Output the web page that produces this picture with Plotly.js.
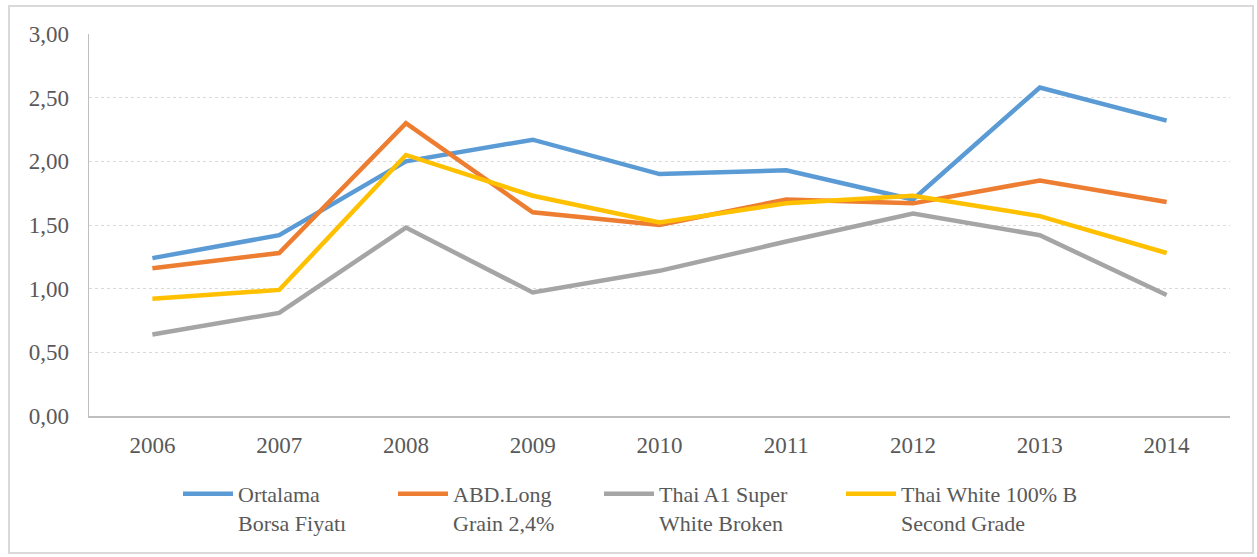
<!DOCTYPE html>
<html>
<head>
<meta charset="utf-8">
<script src="https://cdn.plot.ly/plotly-3.0.1.min.js"></script>
<style>
  body { margin: 0; background: #fff; }
  #plotly_graph { width: 1257px; height: 557px; }
  #frame {
    position: absolute; left: 8px; top: 5px; width: 1242px; height: 545px;
    border: 2px solid #d9d9d9; pointer-events: none;
  }
</style>
</head>
<body>
<div id="plotly_graph"></div>
<div id="frame"></div>
<script>
// ~~~~~~~~~~~~~~~~~~~~~~~~~~~~~~~~ DATA ~~~~~~~~~~~~~~~~~~~~~~~~~~~~~~~~
const YEARS = ['2006', '2007', '2008', '2009', '2010', '2011', '2012', '2013', '2014']

const ORTALAMA = [1.24, 1.42, 2.00, 2.17, 1.90, 1.93, 1.70, 2.58, 2.32]
const ABD_LONG = [1.16, 1.28, 2.30, 1.60, 1.50, 1.70, 1.67, 1.85, 1.68]
const THAI_A1 = [0.64, 0.81, 1.48, 0.97, 1.14, 1.37, 1.59, 1.42, 0.95]
const THAI_WHITE = [0.92, 0.99, 2.05, 1.73, 1.52, 1.67, 1.73, 1.57, 1.28]

const NAMES = [
    'Ortalama<br>Borsa Fiyatı',
    'ABD.Long<br>Grain 2,4%',
    'Thai A1 Super<br>White Broken',
    'Thai White 100% B<br>Second Grade'
]
const COLORS = ['#5b9bd5', '#ed7d31', '#a5a5a5', '#ffc000']

// ~~~~~~~~~~~~~~~~~~~~~~~~~~~~~~~ TRACES ~~~~~~~~~~~~~~~~~~~~~~~~~~~~~~~
// one legend per series so each entry can sit where the original has it
const LEGEND_IDS = ['legend', 'legend2', 'legend3', 'legend4']
const LEGEND_LEFT = [178, 393, 599, 841]  // px from left of page

let series = [ORTALAMA, ABD_LONG, THAI_A1, THAI_WHITE]
let data = series.map((ys, i) => ({
    type: 'scatter',
    mode: 'lines',
    name: NAMES[i],
    legend: LEGEND_IDS[i],
    x: YEARS,
    y: ys,
    line: { color: COLORS[i], width: 4.5 }
}))

// ~~~~~~~~~~~~~~~~~~~~~~~~~~~~~~~ LAYOUT ~~~~~~~~~~~~~~~~~~~~~~~~~~~~~~~
const FONT = 'Liberation Serif'
const GREY = '#595959'

let layout = {
    width: 1257,
    height: 557,
    margin: { t: 34, r: 27, b: 141, l: 89 },
    paper_bgcolor: '#fff',
    plot_bgcolor: '#fff',
    separators: ',.',
    font: { family: FONT, size: 23, color: GREY },
    showlegend: true,
    xaxis: {
        type: 'category',
        range: [-0.5, 8.5],
        showgrid: false,
        showline: true,
        linecolor: '#bfbfbf',
        linewidth: 1.5,
        ticks: '',
        ticklabelstandoff: 8,
        tickfont: { family: FONT, size: 23, color: GREY }
    },
    yaxis: {
        range: [0, 3],
        dtick: 0.5,
        tickformat: '.2f',
        showgrid: true,
        gridcolor: '#d9d9d9',
        griddash: 'dot',
        gridwidth: 1,
        zeroline: false,
        showline: true,
        linecolor: '#bfbfbf',
        linewidth: 1.5,
        ticks: '',
        ticklabelstandoff: 14,
        tickfont: { family: FONT, size: 23, color: GREY }
    }
}

LEGEND_IDS.forEach((id, i) => {
    layout[id] = {
        orientation: 'h',
        xref: 'container',
        yref: 'container',
        x: LEGEND_LEFT[i] / 1257,
        xanchor: 'left',
        y: 0.151,
        yanchor: 'top',
        valign: 'top',
        font: { family: FONT, size: 22, color: GREY },
        itemwidth: 50,
        bgcolor: 'rgba(0,0,0,0)'
    }
})

const config = { displayModeBar: false, staticPlot: true }

Plotly.newPlot('plotly_graph', data, layout, config)
</script>
</body>
</html>
